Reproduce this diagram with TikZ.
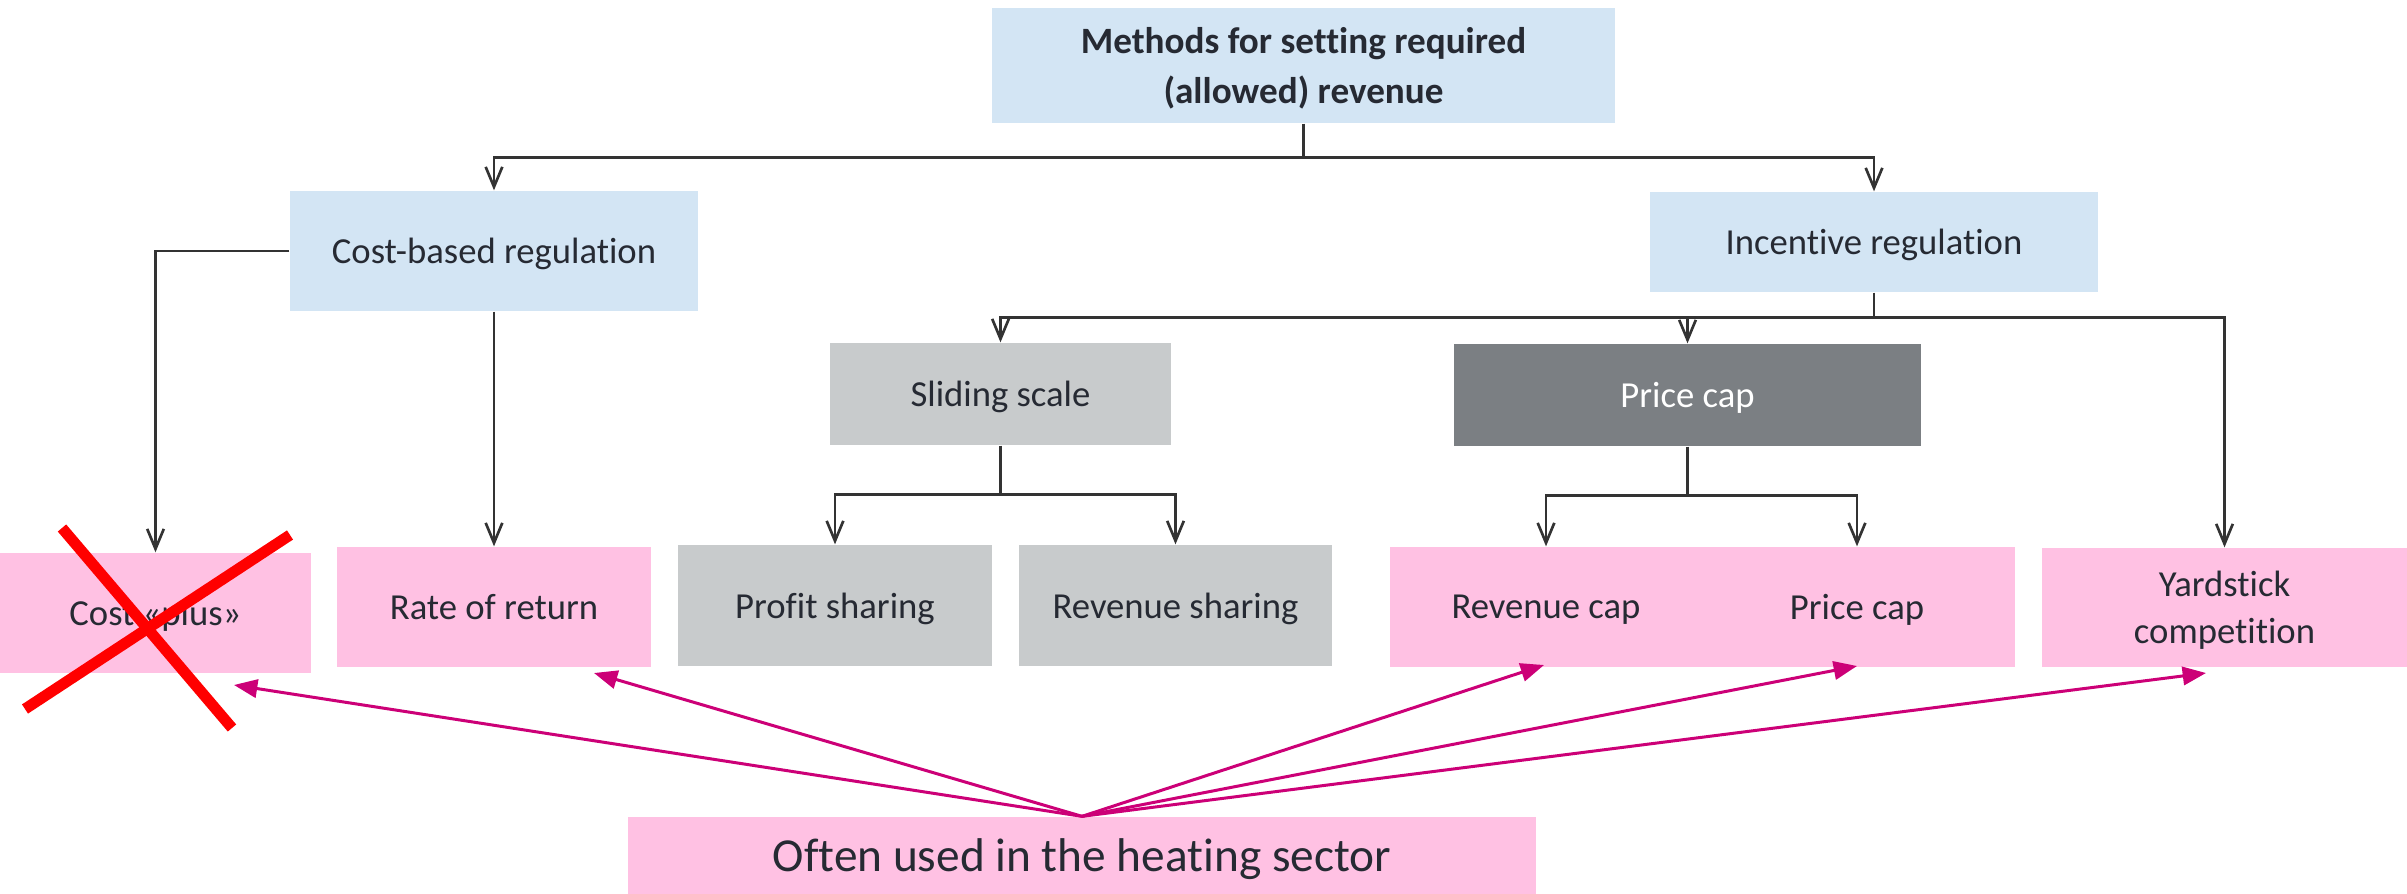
\documentclass[tikz,border=0pt]{standalone}
\usepackage{fontspec}
\setmainfont{Carlito}[Ligatures=NoCommon]
\usetikzlibrary{arrows.meta}
\definecolor{lblue}{HTML}{D3E5F4}
\definecolor{pinkf}{HTML}{FFC1E3}
\definecolor{lgrey}{HTML}{C8CBCC}
\definecolor{dgrey}{HTML}{7B7F83}
\definecolor{txt}{HTML}{262A33}
\definecolor{mag}{HTML}{CC0077}
\definecolor{connc}{HTML}{333333}
\begin{document}
\begin{tikzpicture}[x=0.3pt,y=-0.3pt,
  box/.style={rectangle, inner sep=0pt, text=txt, align=center, text depth=0pt, font=\fontsize{11}{14}\selectfont},
  bluebox/.style={box, fill=lblue},
  pinkbox/.style={box, fill=pinkf},
  greybox/.style={box, fill=lgrey},
  darkbox/.style={box, fill=dgrey, text=white},
  line/.style={draw=connc, line width=0.8pt},
  arr/.style={line, -{Straight Barb[length=6pt,width=5pt]}},
  magarr/.style={draw=mag, line width=0.9pt, -{Triangle[length=7pt,width=5.5pt]}},
  redx/.style={draw=red, line width=3.3pt}
]
\useasboundingbox (0,0) rectangle (2407,894);

% boxes
\node[bluebox, minimum width=186.9pt, minimum height=34.5pt, font=\fontsize{11.15}{15}\selectfont\bfseries] (top) at (1303.5,65.5) {Methods for setting required\\(allowed) revenue};
\node[bluebox, minimum width=122.4pt, minimum height=36pt] (cb) at (494,251) {Cost-based regulation};
\node[bluebox, minimum width=134.4pt, minimum height=30pt] (inc) at (1874,242) {Incentive regulation};
\node[greybox, minimum width=102.3pt, minimum height=30.6pt] (ss) at (1000.5,394) {Sliding scale};
\node[darkbox, minimum width=140.1pt, minimum height=30.6pt] (pc) at (1687.5,395) {Price cap};

\node[pinkbox, minimum width=93.3pt, minimum height=36pt] (cp) at (155.5,613) {Cost «plus»};
\node[pinkbox, minimum width=94.2pt, minimum height=36pt] (rr) at (494,607) {Rate of return};
\node[greybox, minimum width=94.2pt, minimum height=36.3pt] (ps) at (835,605.5) {Profit sharing};
\node[greybox, minimum width=93.9pt, minimum height=36.3pt] (rs) at (1175.5,605.5) {Revenue sharing};
\node[pinkbox, minimum width=187.5pt, minimum height=36pt] (pcbox) at (1702.5,607) {};
\node[box] (rc) at (1546,607) {Revenue cap};
\node[box] (pc2) at (1857,607) {Price cap};
\node[pinkbox, minimum width=109.5pt, minimum height=35.7pt] (ys) at (2224.5,607.5) {Yardstick\\competition};
\node[pinkbox, minimum width=272.4pt, minimum height=23.1pt, font=\fontsize{14.2}{17}\selectfont] (bot) at (1082,855.5) {Often used in the heating sector};

% tree connectors
\draw[line] (top.south) -- ++(0,34) coordinate (j1);
\draw[arr] (j1) -| (cb.north);
\draw[arr] (j1) -| (inc.north);

\draw[arr] (cb.west) -| (cp.north);
\draw[arr] (cb.south) -- (rr.north);

\draw[line] (inc.south) -- ++(0,25) coordinate (j2);
\draw[arr] (j2) -| (ss.north);
\draw[arr] (j2) -| (pc.north);
\draw[arr] (j2) -| (ys.north);

\draw[line] (ss.south) -- ++(0,49) coordinate (j3);
\draw[arr] (j3) -| (ps.north);
\draw[arr] (j3) -| (rs.north);

\draw[line] (pc.south) -- ++(0,49) coordinate (j4);
\draw[arr] (j4) -| (rc |- pcbox.north);
\draw[arr] (j4) -| (pc2 |- pcbox.north);

% magenta arrows
\coordinate (t1) at (234,685);
\coordinate (t2) at (594,673);
\coordinate (t3) at (1544,665);
\coordinate (t4) at (1857,666);
\coordinate (t5) at (2206,673);
\foreach \t in {t1,t2,t3,t4,t5}
  \draw[magarr] (bot.north) -- (\t);

% red cross
\draw[redx] (62,528) -- (232,728);
\draw[redx] (290,535) -- (25,709);
\end{tikzpicture}
\end{document}
